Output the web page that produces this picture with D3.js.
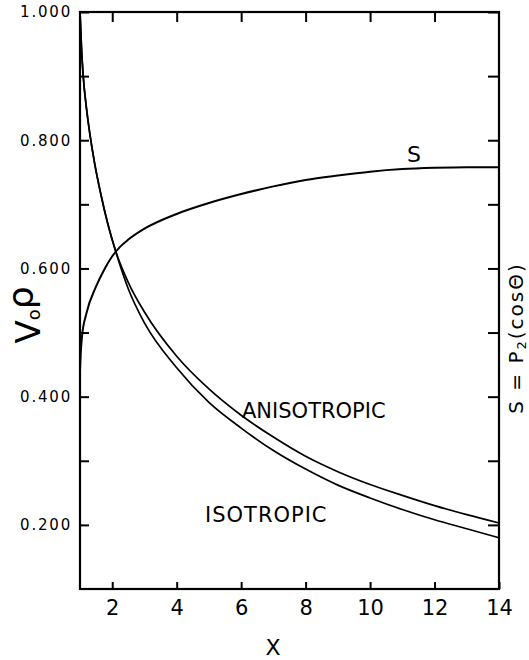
<!DOCTYPE html>
<html>
<head>
<meta charset="utf-8">
<script src="https://cdn.jsdelivr.net/npm/d3@7/dist/d3.min.js"></script>
<style>
  body { margin: 0; background: #fff; }
  svg { display: block; font-family: "DejaVu Sans", "Liberation Sans", sans-serif; }
</style>
</head>
<body>
<svg width="529" height="660"></svg>
<script>
// values
var decX   = [1, 1.05, 1.1, 1.2, 1.3, 1.45, 1.65, 1.85, 2.1, 2.5, 3, 4, 5, 6, 7, 8, 9, 10, 11, 12, 13, 14];
var aniso  = [1.0, 0.94, 0.90, 0.85, 0.812, 0.765, 0.715, 0.672, 0.628, 0.578, 0.532, 0.463, 0.412, 0.371, 0.337, 0.307, 0.283, 0.263, 0.246, 0.230, 0.216, 0.203];
var iso    = [1.0, 0.94, 0.90, 0.85, 0.812, 0.765, 0.715, 0.672, 0.628, 0.568, 0.515, 0.445, 0.391, 0.351, 0.316, 0.287, 0.262, 0.242, 0.224, 0.208, 0.194, 0.180];

var sX   = [1, 1.02, 1.06, 1.2, 1.5, 1.75, 2, 2.25, 2.5, 3, 4, 5, 6, 7, 8, 9, 10, 11, 12, 13, 14];
var sVal = [0.44, 0.465, 0.493, 0.53, 0.572, 0.598, 0.619, 0.634, 0.645, 0.662, 0.685, 0.702, 0.716, 0.728, 0.738, 0.745, 0.751, 0.755, 0.757, 0.758, 0.758];

var xTicks = [2, 4, 6, 8, 10, 12, 14];
var yMajor = [0.2, 0.4, 0.6, 0.8, 1.0];
var yMinor = [0.3, 0.5, 0.7, 0.9];

var svg = d3.select("svg");
var pLeft = 80, pRight = 499, pTop = 12, pBottom = 589;

var x = d3.scaleLinear().domain([1, 14]).range([pLeft, pRight]);
var y = d3.scaleLinear().domain([0.1, 1.0]).range([pBottom, pTop]);

var noDomain = function(g) { g.select(".domain").remove(); };

// bottom axis, ticks pointing in
svg.append("g")
   .attr("transform", "translate(0," + pBottom + ")")
   .call(d3.axisBottom(x).tickValues(xTicks).tickSize(-7).tickPadding(11)
           .tickFormat(function(d) { return d; }))
   .call(noDomain)
   .call(function(g) {
     g.selectAll("line").attr("stroke-width", 2);
     g.selectAll("text").attr("font-size", 21).attr("fill", "#000")
      .attr("font-family", "DejaVu Sans, sans-serif");
   });

// top axis, ticks only
svg.append("g")
   .attr("transform", "translate(0," + pTop + ")")
   .call(d3.axisTop(x).tickValues(xTicks.slice(0, -1)).tickSize(-10).tickFormat(""))
   .call(noDomain)
   .call(function(g) { g.selectAll("line").attr("stroke-width", 2); });

// left axis with labels every 0.2 and extra ticks between
svg.append("g")
   .attr("transform", "translate(" + pLeft + ",0)")
   .call(d3.axisLeft(y).tickValues(yMajor).tickSize(-9).tickPadding(8)
           .tickFormat(d3.format(".3f")))
   .call(noDomain)
   .call(function(g) {
     g.selectAll("line").attr("stroke-width", 2);
     g.selectAll("text").attr("font-size", 15).attr("letter-spacing", 1.8).attr("fill", "#000")
      .attr("font-family", "DejaVu Sans, sans-serif");
   });
svg.append("g")
   .attr("transform", "translate(" + pLeft + ",0)")
   .call(d3.axisLeft(y).tickValues(yMinor).tickSize(-9).tickFormat(""))
   .call(noDomain)
   .call(function(g) { g.selectAll("line").attr("stroke-width", 2); });

// right axis, ticks only
svg.append("g")
   .attr("transform", "translate(" + pRight + ",0)")
   .call(d3.axisRight(y).tickValues(yMajor.concat(yMinor)).tickSize(-11).tickFormat(""))
   .call(noDomain)
   .call(function(g) { g.selectAll("line").attr("stroke-width", 2); });

// frame
svg.append("rect")
   .attr("x", pLeft).attr("y", pTop)
   .attr("width", pRight - pLeft).attr("height", pBottom - pTop)
   .attr("fill", "none").attr("stroke", "#000").attr("stroke-width", 2.2);

var line = d3.line().curve(d3.curveMonotoneX);

svg.append("path")
   .attr("d", line(decX.map(function(d, i) { return [x(d), y(aniso[i])]; })))
   .attr("fill", "none").attr("stroke", "#000").attr("stroke-width", 1.7);

svg.append("path")
   .attr("d", line(decX.map(function(d, i) { return [x(d), y(iso[i])]; })))
   .attr("fill", "none").attr("stroke", "#000").attr("stroke-width", 1.7);

svg.append("path")
   .attr("d", line(sX.map(function(d, i) { return [x(d), y(sVal[i])]; })))
   .attr("fill", "none").attr("stroke", "#000").attr("stroke-width", 2);

// curve labels
svg.append("text").attr("x", 414).attr("y", 162).attr("text-anchor", "middle")
   .attr("font-size", 22).text("S");
svg.append("text").attr("x", 242).attr("y", 418)
   .attr("font-size", 21).text("ANISOTROPIC");
svg.append("text").attr("x", 205).attr("y", 522)
   .attr("font-size", 21).attr("letter-spacing", 1).text("ISOTROPIC");

// axis titles
svg.append("text").attr("x", 273).attr("y", 655).attr("text-anchor", "middle")
   .attr("font-size", 22).text("X");

var yl = svg.append("text")
   .attr("transform", "translate(40,315) rotate(-90)")
   .attr("text-anchor", "middle");
yl.append("tspan").attr("font-size", 34).text("V");
yl.append("tspan").attr("font-size", 18).text("o");
yl.append("tspan").attr("font-size", 36).attr("dy", -7).text("ρ");

var yr = svg.append("text")
   .attr("transform", "translate(523,338) rotate(-90)")
   .attr("text-anchor", "middle")
   .attr("font-size", 20).attr("letter-spacing", 2);
yr.append("tspan").text("S = P");
yr.append("tspan").attr("font-size", 13).attr("dy", 3).text("2");
yr.append("tspan").attr("dy", -3).text("(cosΘ)");
</script>
</body>
</html>
